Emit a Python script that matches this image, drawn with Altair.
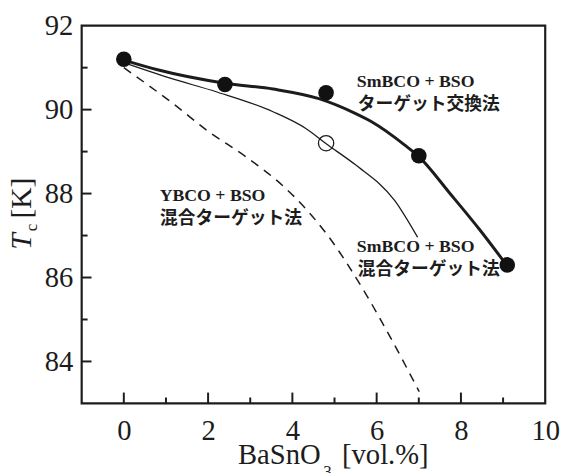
import altair as alt
import pandas as pd

# ---- data ----
# measured points
filled_x = [0.0, 2.4, 4.8, 7.0, 9.1]
filled_y = [91.2, 90.6, 90.4, 88.9, 86.3]
open_x = [4.8]
open_y = [89.2]

# curve traces
thick_x = [0.0, 0.8, 2.4, 3.54, 4.63, 5.49, 5.88, 6.66, 7.0, 7.75, 8.46, 9.08]
thick_y = [91.18, 90.95, 90.63, 90.49, 90.26, 89.91, 89.71, 89.16, 88.88, 87.99, 87.12, 86.30]

thin_x = [0.0, 1.1, 2.21, 3.54, 4.32, 4.81, 5.49, 6.43, 6.97]
thin_y = [91.12, 90.75, 90.42, 89.95, 89.55, 89.18, 88.69, 87.83, 86.96]

dash_x = [0.0, 1.2, 1.98, 2.92, 3.78, 4.09, 4.81, 5.73, 6.35, 7.01]
dash_y = [91.0, 90.12, 89.5, 88.86, 88.18, 87.88, 87.04, 85.63, 84.53, 83.28]

# tick values
x_label_values = [0, 2, 4, 6, 8, 10]
y_label_values = [84, 86, 88, 90, 92]
x_major_ticks = [0, 2, 4, 6, 8]
x_minor_ticks = [1, 3, 5, 7, 9]
y_major_ticks = [84, 86, 88, 90]
y_minor_ticks = [85, 87, 89, 91]

# annotations
latin_text = ["SmBCO + BSO", "YBCO + BSO", "SmBCO + BSO"]
latin_x = [5.53, 0.85, 5.53]
latin_y = [90.66, 87.94, 86.73]
jp_text = ["ターゲット交換法", "混合ターゲット法", "混合ターゲット法"]
jp_x = [5.55, 0.86, 5.55]
jp_y = [90.11, 87.39, 86.18]

W, H = 470, 383
INK = "#1c1c1c"
SERIF = "Liberation Serif"

x_scale = alt.Scale(domain=[-1, 10], nice=False, zero=False)
y_scale = alt.Scale(domain=[83, 92], nice=False, zero=False)

x_axis = alt.Axis(values=x_label_values, title=None, ticks=False, tickSize=0,
                  domain=False, grid=False, labelFont=SERIF, labelFontSize=29,
                  labelColor=INK, labelPadding=14, labelFlush=False,
                  labelOverlap=False, format="d")
y_axis = alt.Axis(values=y_label_values, title=None, ticks=False, tickSize=0,
                  domain=False, grid=False, labelFont=SERIF, labelFontSize=29,
                  labelColor=INK, labelPadding=9, labelFlush=False,
                  labelOverlap=False, format="d")


def X(field="x"):
    return alt.X(f"{field}:Q", scale=x_scale, axis=x_axis)


def Y(field="y"):
    return alt.Y(f"{field}:Q", scale=y_scale, axis=y_axis)


def line_layer(xs, ys, **kw):
    df = pd.DataFrame({"x": xs, "y": ys})
    return alt.Chart(df).mark_line(interpolate="monotone", color=INK, **kw).encode(x=X(), y=Y())


thick = line_layer(thick_x, thick_y, strokeWidth=3)
thin = line_layer(thin_x, thin_y, strokeWidth=1.3)
dashed = line_layer(dash_x, dash_y, strokeWidth=1.5, strokeDash=[9, 7])

filled = alt.Chart(pd.DataFrame({"x": filled_x, "y": filled_y})).mark_circle(
    size=250, color="#111111", opacity=1
).encode(x=X(), y=Y())

opened = alt.Chart(pd.DataFrame({"x": open_x, "y": open_y})).mark_point(
    shape="circle", filled=False, size=240, stroke=INK, strokeWidth=1.3, opacity=1
).encode(x=X(), y=Y())

# inward ticks
xmaj = alt.Chart(pd.DataFrame({"x": x_major_ticks})).mark_rule(color=INK, strokeWidth=2).encode(
    x=X(), y=alt.value(H), y2=alt.value(H - 11))
xmin = alt.Chart(pd.DataFrame({"x": x_minor_ticks})).mark_rule(color=INK, strokeWidth=2).encode(
    x=X(), y=alt.value(H), y2=alt.value(H - 6))
ymaj = alt.Chart(pd.DataFrame({"y": y_major_ticks})).mark_rule(color=INK, strokeWidth=2).encode(
    y=Y(), x=alt.value(0), x2=alt.value(10))
ymin = alt.Chart(pd.DataFrame({"y": y_minor_ticks})).mark_rule(color=INK, strokeWidth=2).encode(
    y=Y(), x=alt.value(0), x2=alt.value(6))

latin = alt.Chart(pd.DataFrame({"x": latin_x, "y": latin_y, "t": latin_text})).mark_text(
    align="left", baseline="middle", font=SERIF, fontSize=18, fontWeight="bold", color=INK
).encode(x=X(), y=Y(), text="t:N")

jp = alt.Chart(pd.DataFrame({"x": jp_x, "y": jp_y, "t": jp_text})).mark_text(
    align="left", baseline="middle", font="Noto Sans CJK JP", fontSize=18, fontWeight="bold", color=INK
).encode(x=X(), y=Y(), text="t:N")


def label(text, x, y, size, angle=0, align="left", style="normal"):
    return alt.Chart(pd.DataFrame({"t": [text]})).mark_text(
        align=align, baseline="alphabetic", font=SERIF, fontSize=size,
        fontStyle=style, angle=angle, color=INK
    ).encode(x=alt.value(x), y=alt.value(y), text="t:N")


# axis titles
xt1 = label("BaSnO", 242.3, 444, 29, align="right")
xt2 = label("3", 245, 458, 17)
xt3 = label("[vol.%]", 264, 444, 29)
yt1 = label("T", -51, 227.3, 30, angle=270, style="italic")
yt2 = label("c", -45.4, 208.5, 17, angle=270)
yt3 = label("[K]", -51, 195.6, 30, angle=270)

chart = alt.layer(
    dashed, thin, thick, xmaj, xmin, ymaj, ymin, filled, opened, latin, jp,
    xt1, xt2, xt3, yt1, yt2, yt3
).properties(
    width=W, height=H,
    padding={"left": 74.7, "top": 14.7, "right": 16, "bottom": 67},
    autosize=alt.AutoSizeParams(type="none"),
    background="white",
).configure_view(stroke=INK, strokeWidth=2.2)

chart.save("out.html", embed_options={"renderer": "svg", "actions": False})
